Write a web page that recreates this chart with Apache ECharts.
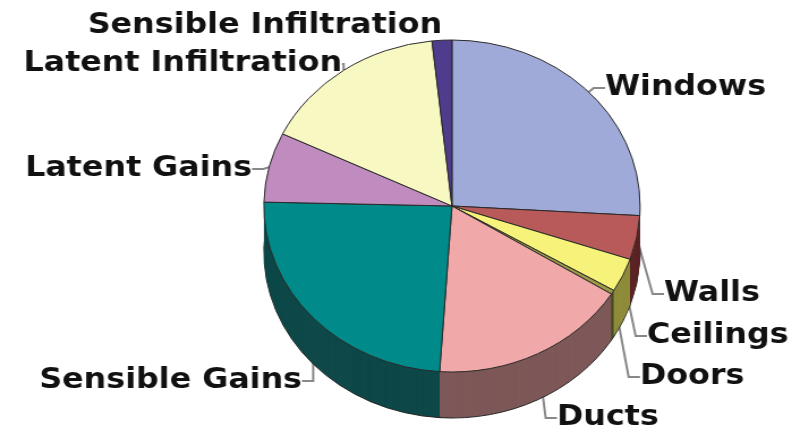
<!DOCTYPE html>
<html>
<head>
<meta charset="utf-8">
<script src="https://cdn.jsdelivr.net/npm/echarts@6/dist/echarts.min.js"></script>
<style>
  html, body { margin: 0; padding: 0; background: #fff; overflow: hidden; }
  #wrap { width: 800px; height: 433px; overflow: hidden; }
  /* the source picture is stretched sideways, so stretch the canvas the same way */
  #chart { width: 706px; height: 433px; transform: scaleX(1.1331); transform-origin: 0 0; }
</style>
</head>
<body>
<div id="wrap"><div id="chart"></div></div>
<script>
const SX = 800 / 706

let categories = ['Windows', 'Walls', 'Ceilings', 'Doors', 'Ducts', 'Sensible Gains', 'Latent Gains', 'Latent Infiltration', 'Sensible Infiltration']
let values = [26, 4.3, 3.3, 0.4, 17.2, 24.4, 6.8, 16.2, 1.7]

let topColors = ['#a0aad8', '#b85a5a', '#f6f27a', '#9c9a48', '#f0a8a8', '#008a8a', '#c08cc0', '#f8f8c2', '#503c8c']
let sideColors = ['#5a6090', '#5c2424', '#8e8c3a', '#4a4a20', '#7e5858', '#0e4848', '#6a4a6a', '#8a8a60', '#2a2050']

// where each label sits in the picture: [x, middle y, align]
let labelSpots = {
  'Windows': [605, 88, 'left'],
  'Walls': [664, 294, 'left'],
  'Ceilings': [647, 336, 'left'],
  'Doors': [640, 377, 'left'],
  'Ducts': [557, 418, 'left'],
  'Sensible Gains': [302, 381, 'right'],
  'Latent Gains': [252, 169, 'right'],
  'Latent Infiltration': [342, 64, 'right'],
  'Sensible Infiltration': [442, 26, 'right']
}

let cx = 452 / SX
let cy = 206
let r = 166
let depth = 46

let myChart = echarts.init(document.getElementById('chart'))

let pieData = function (colors) {
  return categories.map((name, i) => {
    let item = { name: name, value: values[i], itemStyle: { color: colors[i] } }
    if (name === 'Sensible Infiltration') item.labelLine = { show: false }
    return item
  })
}

let series = []

// side wall: stack of darker pies pushed down
for (let d = depth; d >= 1; d--) {
  series.push({
    type: 'pie',
    silent: true,
    animation: false,
    center: [cx, cy + d],
    radius: r,
    startAngle: 90,
    label: { show: false },
    labelLine: { show: false },
    itemStyle: d === depth ? { borderColor: '#222', borderWidth: 1 } : { borderWidth: 0 },
    data: pieData(sideColors)
  })
}

// top face with labels
series.push({
  type: 'pie',
  silent: true,
  animation: false,
  center: [cx, cy],
  radius: r,
  startAngle: 90,
  avoidLabelOverlap: false,
  itemStyle: { borderColor: '#2a2a2a', borderWidth: 1 },
  label: {
    show: true,
    position: 'outside',
    color: '#111',
    fontFamily: 'DejaVu Sans',
    fontWeight: 'bold',
    fontSize: 28
  },
  labelLine: {
    show: true,
    length: 10,
    length2: 10,
    lineStyle: { color: '#888', width: 2 }
  },
  labelLayout: function (params) {
    let s = labelSpots[categories[params.dataIndex]]
    return { x: s[0] / SX, y: s[1], align: s[2], verticalAlign: 'middle' }
  },
  data: pieData(topColors)
})

myChart.setOption({ series: series })
</script>
</body>
</html>
